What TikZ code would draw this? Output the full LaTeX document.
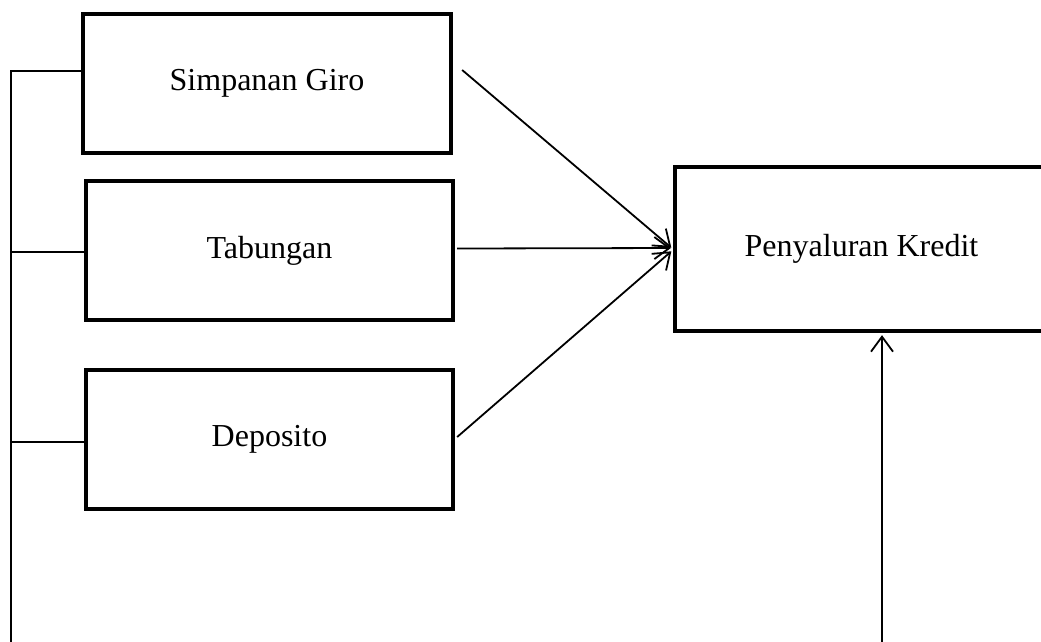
\documentclass[tikz,border=0pt]{standalone}
\usepackage{fontspec}
\setmainfont{Liberation Serif}
\usetikzlibrary{arrows.meta}
\tikzset{
  box/.style={draw=black, line width=4.3pt, fill=white, inner sep=0pt,
    font=\fontsize{32}{38}\selectfont},
  conn/.style={draw=black, line width=1.8pt},
  arr/.style={conn, -{Straight Barb[length=15pt,width=22pt]}, shorten >=2pt}
}
\begin{document}
\begin{tikzpicture}[x=1pt,y=-1pt]
\useasboundingbox (0,0) rectangle (1041,641);
\clip (0,0) rectangle (1041,641);
\fill[white] (0,0) rectangle (1041,641);
\node[box, minimum width=368pt, minimum height=139pt] (sg) at (267,83.5) {Simpanan Giro};
\node[box, minimum width=367pt, minimum height=139pt] (tb) at (269.5,250.5) {Tabungan};
\node[box, minimum width=367pt, minimum height=139pt] (dp) at (269.5,439.5) {Deposito};
\node[box, minimum width=373pt, minimum height=164pt] (pk) at (861.5,249) {Penyaluran Kredit};
\coordinate (bustop) at (11,71);
\coordinate (busbot) at (11,645);
\coordinate (arrbot) at (882,645);
% left bus
\draw[conn] ([yshift=12.5pt]sg.west) -- (bustop) -- (busbot);
\draw[conn] ([yshift=-1.5pt]tb.west) -- ([yshift=-1.5pt]tb.west -| bustop);
\draw[conn] ([yshift=-2.5pt]dp.west) -- ([yshift=-2.5pt]dp.west -| bustop);
% arrows into Penyaluran Kredit
\draw[arr] ([xshift=9pt,yshift=13.5pt]sg.east) -- (pk.west);
\draw[arr] ([xshift=2pt,yshift=2pt]tb.east) -- ([yshift=1pt]pk.west);
\draw[arr] ([xshift=2pt,yshift=2.5pt]dp.east) -- ([yshift=-1pt]pk.west);
\draw[arr] (arrbot) -- (arrbot |- pk.south);
\end{tikzpicture}
\end{document}
